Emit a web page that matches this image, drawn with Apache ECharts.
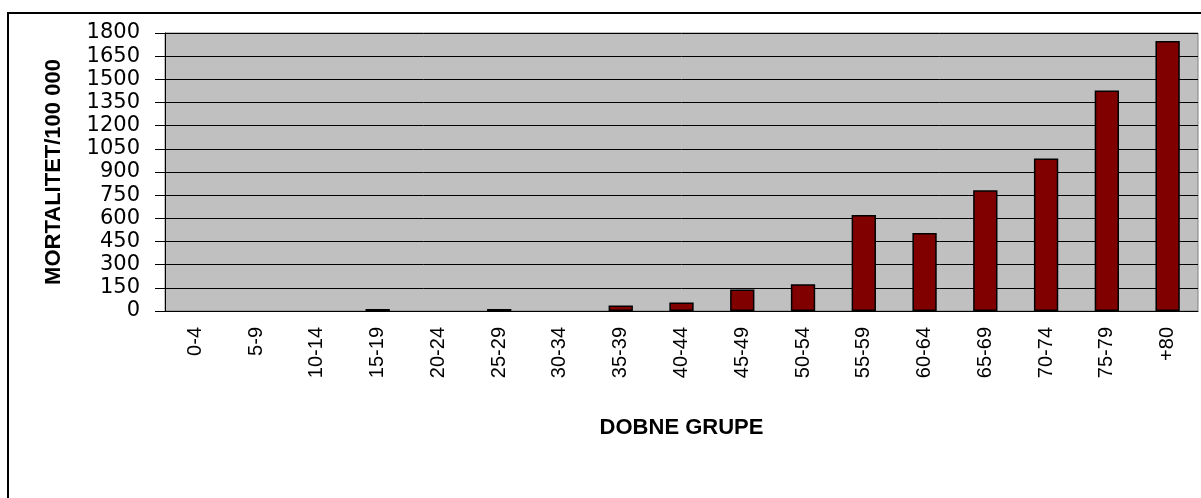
<!DOCTYPE html>
<html>
<head>
<meta charset="utf-8">
<script src="https://cdn.jsdelivr.net/npm/echarts@6/dist/echarts.min.js"></script>
<style>
  html, body { margin: 0; padding: 0; background: #fff; }
  #chart { width: 1201px; height: 498px; }
</style>
</head>
<body>
<div id="chart"></div>
<script>
// age groups and mortality per 100 000
var groups = ['0-4', '5-9', '10-14', '15-19', '20-24', '25-29', '30-34', '35-39', '40-44',
  '45-49', '50-54', '55-59', '60-64', '65-69', '70-74', '75-79', '+80'];
var mortality = [0, 0, 0, 13, 0, 13, 0, 35, 55, 140, 173, 622, 505, 782, 988, 1427, 1748];
var yTitle = 'MORTALITET/100 000';
var xTitle = 'DOBNE GRUPE';

var chart = echarts.init(document.getElementById('chart'));
var option = {
  animation: false,
  backgroundColor: '#fff',
  graphic: [{
    type: 'rect',
    shape: { x: 8, y: 13, width: 1400, height: 700 },
    style: { fill: null, stroke: '#000', lineWidth: 2 },
    z: -1
  }],
  grid: {
    left: 165,
    right: 3,
    top: 33,
    bottom: 187,
    show: true,
    backgroundColor: '#C0C0C0',
    borderColor: '#808080',
    borderWidth: 1
  },
  xAxis: {
    type: 'category',
    data: groups,
    name: xTitle,
    nameLocation: 'middle',
    nameGap: 106,
    nameTextStyle: { fontFamily: 'Liberation Sans', fontWeight: 'bold', fontSize: 22, color: '#000' },
    axisLine: { lineStyle: { color: '#000', width: 1 } },
    axisTick: { length: 6, lineStyle: { color: '#000' } },
    axisLabel: {
      rotate: 90,
      margin: 16,
      interval: 0,
      fontFamily: 'Liberation Sans',
      fontSize: 20,
      color: '#000'
    },
    splitLine: { show: false }
  },
  yAxis: {
    type: 'value',
    min: 0,
    max: 1800,
    interval: 150,
    name: yTitle,
    nameLocation: 'middle',
    nameRotate: 90,
    nameGap: 100,
    nameTextStyle: { fontFamily: 'Liberation Sans', fontWeight: 'bold', fontSize: 22, color: '#000' },
    axisLine: { show: true, lineStyle: { color: '#000', width: 1 } },
    axisTick: { show: true, length: 10, lineStyle: { color: '#000' } },
    axisLabel: {
      margin: 25,
      fontFamily: 'DejaVu Sans',
      fontSize: 21,
      color: '#000',
      formatter: function (v) { return String(v); }
    },
    splitLine: { show: true, lineStyle: { color: '#000', width: 1 } }
  },
  series: [{
    type: 'bar',
    // zero values are not drawn in the original
    data: mortality.map(function (v) { return v === 0 ? '-' : v; }),
    barWidth: '40%',
    itemStyle: { color: '#800000', borderColor: '#000', borderWidth: 1.5 }
  }]
};
chart.setOption(option);
</script>
</body>
</html>
